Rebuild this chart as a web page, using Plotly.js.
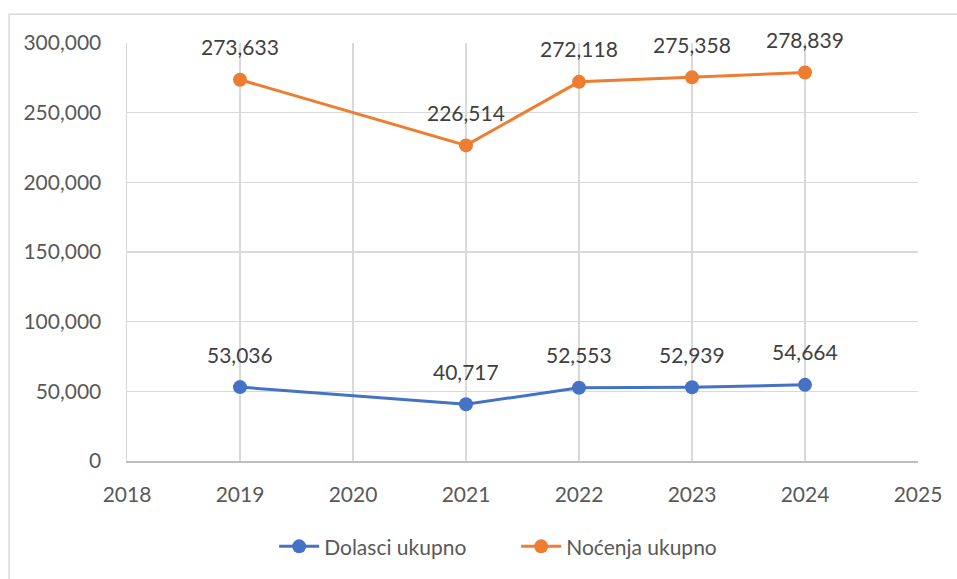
<!DOCTYPE html>
<html>
<head>
<meta charset="utf-8">
<script src="https://cdn.plot.ly/plotly-3.0.1.min.js"></script>
<style>html,body{margin:0;padding:0;background:#fff;}#chart{width:957px;height:579px;}</style>
</head>
<body>
<div id="chart"></div>
<script>
const years = [2019, 2021, 2022, 2023, 2024];
const dolasci = [53036, 40717, 52553, 52939, 54664];
const nocenja = [273633, 226514, 272118, 275358, 278839];
const seriesNames = ["Dolasci ukupno", "Noćenja ukupno"];
const xTicks = [2018, 2019, 2020, 2021, 2022, 2023, 2024, 2025];
const yTicks = [0, 50000, 100000, 150000, 200000, 250000, 300000];

const fontFam = "Lato, 'Open Sans', sans-serif";
const blue = "#4472c4", orange = "#ed7d31";

const traces = [
  {x: years, y: dolasci, name: seriesNames[0], type: "scatter", mode: "lines+markers",
   line: {color: blue, width: 3}, marker: {color: blue, size: 14}},
  {x: years, y: nocenja, name: seriesNames[1], type: "scatter", mode: "lines+markers",
   line: {color: orange, width: 3}, marker: {color: orange, size: 14}}
];

const fmt = v => v.toLocaleString("en-US");
const annotations = [];
[dolasci, nocenja].forEach(arr => {
  arr.forEach((v, i) => {
    annotations.push({x: years[i], y: v, xref: "x", yref: "y", text: fmt(v), showarrow: false,
      yshift: 33, font: {family: fontFam, size: 21, color: "#404040"}});
  });
});

const layout = {
  width: 957, height: 579,
  margin: {l: 127, r: 39, t: 43, b: 116},
  paper_bgcolor: "#fff", plot_bgcolor: "#fff",
  showlegend: true,
  legend: {orientation: "h", x: 0.492, xanchor: "center", y: -0.205, yanchor: "middle",
    entrywidth: 187, itemwidth: 40,
    font: {family: fontFam, size: 21, color: "#595959"}},
  xaxis: {range: [2018, 2025], tickvals: xTicks, ticktext: xTicks.map(String),
    showgrid: true, gridcolor: "#d9d9d9", gridwidth: 1.5, zeroline: false,
    showline: true, linecolor: "#bfbfbf", linewidth: 2, mirror: false,
    ticks: "", ticklabelstandoff: 14,
    tickfont: {family: fontFam, size: 21, color: "#595959"}},
  yaxis: {range: [0, 300000], tickvals: yTicks, ticktext: yTicks.map(fmt),
    showgrid: true, gridcolor: "#d9d9d9", gridwidth: 1.5, zeroline: false,
    showline: true, linecolor: "#d9d9d9", linewidth: 1.5,
    ticks: "", ticklabelstandoff: 20,
    tickfont: {family: fontFam, size: 21, color: "#595959"}},
  annotations: annotations,
  shapes: [{type: "rect", xref: "paper", yref: "paper", x0: -0.149, x1: 1.2, y0: -0.5, y1: 1.069,
    line: {color: "#d9d9d9", width: 1.5}, layer: "below"}]
};

Plotly.newPlot("chart", traces, layout, {displayModeBar: false, staticPlot: true});
</script>
</body>
</html>
